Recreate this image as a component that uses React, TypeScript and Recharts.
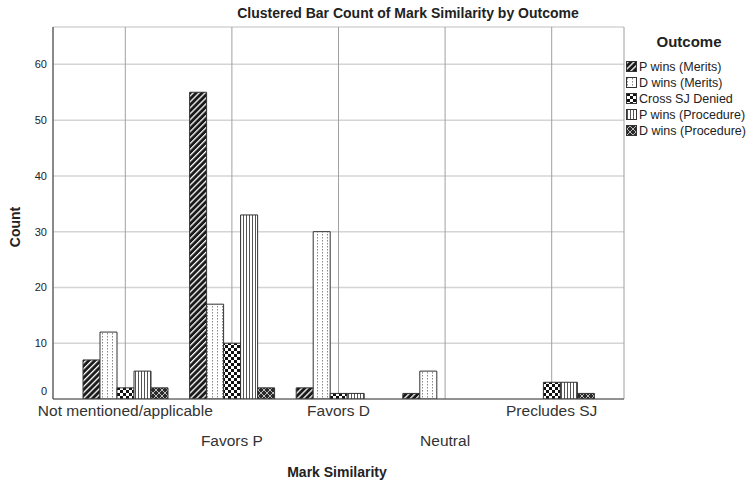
import { Bar, BarChart, CartesianGrid, XAxis, YAxis } from "recharts";

const categories = ["Not mentioned/applicable", "Favors P", "Favors D", "Neutral", "Precludes SJ"];
const pWinsMerits = [7, 55, 2, 1, 0];
const dWinsMerits = [12, 17, 30, 5, 0];
const crossSjDenied = [2, 10, 1, 0, 3];
const pWinsProcedure = [5, 33, 1, 0, 3];
const dWinsProcedure = [2, 2, 0, 0, 1];
const yTicks = [0, 10, 20, 30, 40, 50, 60];

const series = [
  { key: "pm", name: "P wins (Merits)", values: pWinsMerits, fill: "url(#patDiag)" },
  { key: "dm", name: "D wins (Merits)", values: dWinsMerits, fill: "url(#patDots)" },
  { key: "cx", name: "Cross SJ Denied", values: crossSjDenied, fill: "url(#patCheck)" },
  { key: "pp", name: "P wins (Procedure)", values: pWinsProcedure, fill: "url(#patVert)" },
  { key: "dp", name: "D wins (Procedure)", values: dWinsProcedure, fill: "url(#patCross)" },
];

const data = categories.map((c, i) => {
  const row: Record<string, string | number> = { cat: c };
  series.forEach((s) => (row[s.key] = s.values[i]));
  return row;
});

const font = "'Liberation Sans', Arial, sans-serif";

function CatTick(props: any) {
  const { x, payload, index } = props;
  const y = index % 2 === 0 ? 416 : 446;
  return (
    <text x={x} y={y} textAnchor="middle" fontSize={15.5} fill="#333" fontFamily={font}>
      {payload.value}
    </text>
  );
}

function CountTick(props: any) {
  const { x, y, payload } = props;
  // the zero label sits a little above the baseline
  const shift = payload.value === 0 ? -8 : 0;
  return (
    <text x={x} y={y + shift} dy={4} textAnchor="end" fontSize={11} fill="#222" fontFamily={font}>
      {payload.value}
    </text>
  );
}

export default function App() {
  return (
    <div style={{ position: "absolute", left: 0, top: 0, width: 752, height: 482, background: "#fff" }}>
      <svg width={0} height={0} style={{ position: "absolute" }}>
        <defs>
          <pattern id="patDiag" width={4.2} height={4.2} patternUnits="userSpaceOnUse" patternTransform="rotate(45)">
            <rect width={4.2} height={4.2} fill="#1a1a1a" />
            <rect width={1.3} height={4.2} fill="#fff" />
          </pattern>
          <pattern id="patDots" width={5} height={3} patternUnits="userSpaceOnUse">
            <rect width={5} height={3} fill="#fff" />
            <rect x={2} width={1} height={1.5} fill="#888" />
          </pattern>
          <pattern id="patCheck" width={6} height={6} patternUnits="userSpaceOnUse">
            <rect width={6} height={6} fill="#fff" />
            <rect width={3} height={3} fill="#111" />
            <rect x={3} y={3} width={3} height={3} fill="#111" />
          </pattern>
          <pattern id="patVert" width={3} height={3} patternUnits="userSpaceOnUse">
            <rect width={3} height={3} fill="#fff" />
            <rect width={1} height={3} fill="#555" />
          </pattern>
          <pattern id="patCross" width={6} height={6} patternUnits="userSpaceOnUse">
            <rect width={6} height={6} fill="#2a2a2a" />
            <path d="M0 0L6 6M6 0L0 6" stroke="#bbb" strokeWidth={1} />
          </pattern>
        </defs>
      </svg>
      <BarChart
        width={752}
        height={482}
        data={data}
        margin={{ top: 27, right: 128, bottom: 0, left: 0 }}
        barSize={17}
        barGap={0}
        style={{ fontFamily: font }}
      >
        <CartesianGrid vertical={false} stroke="#d4d4d4" strokeWidth={1.5} />
        <CartesianGrid horizontal={false} stroke="#a0a0a0" strokeWidth={1} />
        <XAxis
          dataKey="cat"
          height={83}
          padding={{ left: 19, right: 19 }}
          tick={<CatTick />}
          tickLine={false}
          interval={0}
          axisLine={{ stroke: "#444" }}
        />
        <XAxis xAxisId="top" dataKey="cat" orientation="top" height={0} tick={false} tickLine={false} axisLine={{ stroke: "#555" }} />
        <YAxis
          domain={[0, 66.7]}
          ticks={yTicks}
          width={53}
          tickLine={false}
          tickSize={4}
          tickMargin={2}
          axisLine={{ stroke: "#444" }}
          tick={<CountTick />}
          allowDataOverflow
        />
        <YAxis yAxisId="right" orientation="right" width={0} domain={[0, 66.7]} tick={false} tickLine={false} axisLine={{ stroke: "#999" }} />
        {series.map((s) => (
          <Bar key={s.key} dataKey={s.key} name={s.name} fill={s.fill} stroke="#333" strokeWidth={1} isAnimationActive={false} />
        ))}
      </BarChart>
      <svg width={752} height={482} style={{ position: "absolute", left: 0, top: 0, pointerEvents: "none" }} fontFamily={font}>
        <text x={408} y={18} textAnchor="middle" fontSize={14} fontWeight="bold" fill="#222">
          Clustered Bar Count of Mark Similarity by Outcome
        </text>
        <text x={20} y={227} transform="rotate(-90 20 227)" textAnchor="middle" fontSize={14} fontWeight="bold" fill="#222">
          Count
        </text>
        <text x={337} y={477} textAnchor="middle" fontSize={14} fontWeight="bold" fill="#222">
          Mark Similarity
        </text>
        <text x={689} y={47} textAnchor="middle" fontSize={15} fontWeight="bold" fill="#222">
          Outcome
        </text>
        {series.map((s, i) => (
          <g key={s.key}>
            <rect x={626.5} y={61.5 + i * 16} width={10} height={10} fill={s.fill} stroke="#333" />
            <text x={639} y={71 + i * 16} fontSize={12.5} fill="#222">
              {s.name}
            </text>
          </g>
        ))}
      </svg>
    </div>
  );
}
